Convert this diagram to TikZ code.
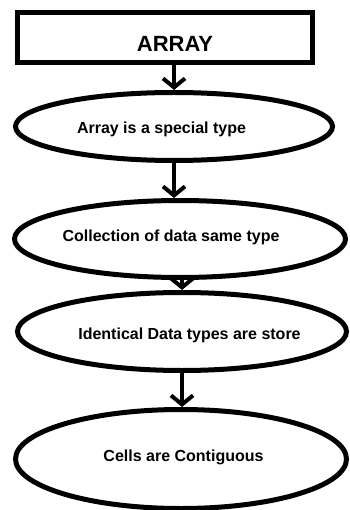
\documentclass[tikz,border=0pt]{standalone}
\usepackage{fontspec}
\setmainfont{Liberation Sans}
\usetikzlibrary{shapes.geometric,arrows.meta}
\begin{document}
\begin{tikzpicture}[x=1pt,y=-1pt,
  box/.style={draw,line width=5pt,rectangle,inner sep=0pt,minimum width=295pt,minimum height=50pt},
  oval/.style={draw,line width=5pt,ellipse,inner sep=0pt},
  txt/.style={anchor=base,inner sep=0pt,font=\bfseries\fontsize{16}{18}\selectfont},
  arr/.style={line width=4pt,-{Straight Barb[length=9pt,width=22pt]}}]
\useasboundingbox (0,0) rectangle (349,510);
\node[box] (r) at (165,37.5) {};
\node[txt,font=\bfseries\fontsize{22}{24}\selectfont] (rt) at (175,51.7) {ARRAY};
\node[oval,minimum width=317pt,minimum height=68pt] (e1) at (174,126.5) {};
\node[txt] (t1) at (161.5,133.3) {Array is a special type};
\node[oval,minimum width=331pt,minimum height=77pt] (e2) at (180,239) {};
\node[txt] (t2) at (171,241.7) {Collection of data same type};
\node[oval,minimum width=329pt,minimum height=78pt] (e3) at (182,331.5) {};
\node[txt] (t3) at (189.5,339.3) {Identical Data types are store};
\node[oval,minimum width=331pt,minimum height=99pt] (e4) at (181,459) {};
\node[txt] (t4) at (183.5,461.7) {Cells are Contiguous};
\draw[arr] (e1.north |- r.south) -- (e1.north);
\draw[arr] (e1.south) -- (e1.south |- e2.north);
\draw[arr] (e3.north |- e2.south) -- (e3.north);
\draw[arr] (e3.south) -- (e3.south |- e4.north);
\end{tikzpicture}
\end{document}
